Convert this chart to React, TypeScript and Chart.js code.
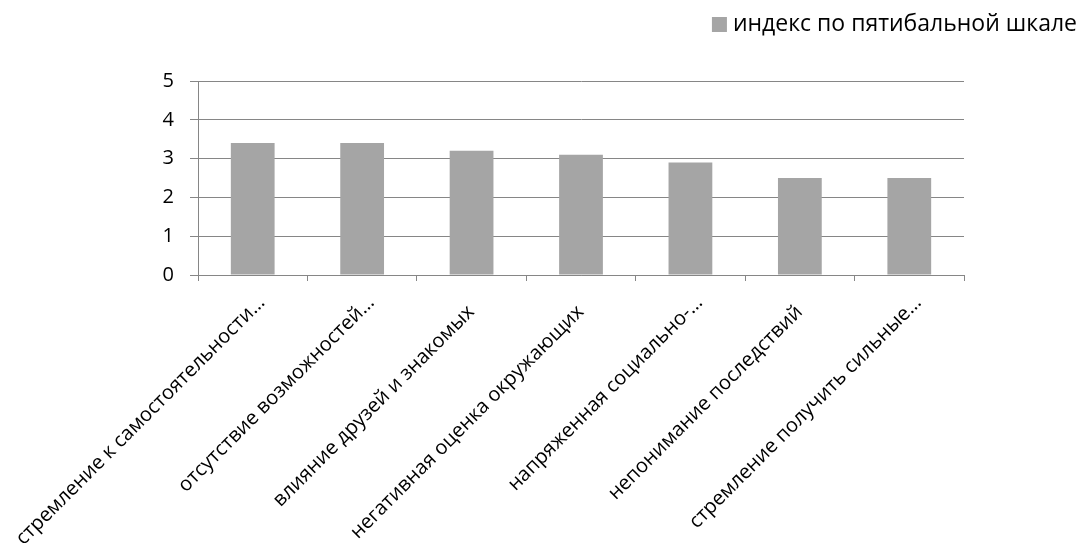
import React, { useEffect, useRef } from "react";
import { Chart, registerables } from "chart.js";

Chart.register(...registerables);

const categories: string[] = [
  "стремление к самостоятельности…",
  "отсутствие возможностей…",
  "влияние друзей и знакомых",
  "негативная оценка окружающих",
  "напряженная социально-…",
  "непонимание последствий",
  "стремление получить сильные…",
];
const seriesName = "индекс по пятибальной шкале";
const values: number[] = [3.4, 3.4, 3.2, 3.1, 2.9, 2.5, 2.5];
const yTicks: number[] = [0, 1, 2, 3, 4, 5];

const FONT = "'Open Sans', 'DejaVu Sans', sans-serif";
const BAR_COLOR = "#A5A5A5";
const GRID_COLOR = "#868686";

const legendPlugin = {
  id: "customLegend",
  afterDraw(chart: any) {
    const ctx = chart.ctx;
    ctx.save();
    ctx.font = `23px ${FONT}`;
    ctx.textBaseline = "middle";
    ctx.textAlign = "right";
    const textRight = 1077;
    const y = 24;
    const w = ctx.measureText(seriesName).width;
    ctx.fillStyle = "#000";
    ctx.fillText(seriesName, textRight, y);
    ctx.fillStyle = BAR_COLOR;
    ctx.fillRect(textRight - w - 21, 17, 15, 15);
    ctx.restore();
  },
};

export default function App() {
  const ref = useRef<HTMLCanvasElement | null>(null);
  useEffect(() => {
    if (!ref.current) return;
    const chart = new Chart(ref.current, {
      type: "bar",
      data: {
        labels: categories,
        datasets: [
          {
            label: seriesName,
            data: values,
            backgroundColor: BAR_COLOR,
            borderWidth: 0,
            barPercentage: 0.4,
            categoryPercentage: 1,
          },
        ],
      },
      options: {
        animation: false,
        responsive: false,
        maintainAspectRatio: false,
        layout: { padding: { top: 81, right: 116, left: 0, bottom: 0 } },
        plugins: { legend: { display: false }, tooltip: { enabled: false } },
        scales: {
          x: {
            grid: {
              display: true,
              drawOnChartArea: false,
              drawTicks: true,
              tickLength: 6,
              color: GRID_COLOR,
              offset: true,
            },
            border: { display: true, color: GRID_COLOR, width: 1 },
            ticks: {
              color: "#000",
              font: { family: FONT, size: 20 },
              maxRotation: 45,
              minRotation: 45,
              autoSkip: false,
              padding: 10,
              labelOffset: 9,
              callback: (_v: any, i: number) => {
                const s = categories[i];
                // untruncated labels sit slightly further back, as in the original
                return s.endsWith("…") ? s : s + "\u2002\u2009";
              },
            },
            afterFit(scale: any) {
              scale.height = 268;
              scale.paddingLeft = 0;
              scale.paddingRight = 0;
            },
          },
          y: {
            min: 0,
            max: 5,
            afterBuildTicks(scale: any) {
              scale.ticks = yTicks.map((v) => ({ value: v }));
            },
            grid: {
              color: GRID_COLOR,
              drawTicks: true,
              tickLength: 8,
            },
            border: { display: true, color: GRID_COLOR, width: 1 },
            ticks: {
              color: "#000",
              font: { family: FONT, size: 20 },
              padding: 16,
            },
            afterFit(scale: any) {
              scale.width = 198;
              scale.paddingTop = 0;
              scale.paddingBottom = 0;
            },
          },
        },
      },
      plugins: [legendPlugin],
    });
    return () => chart.destroy();
  }, []);
  return (
    <div style={{ position: "fixed", left: 0, top: 0, width: 1080, height: 543, background: "#fff" }}>
      <canvas ref={ref} width={1080} height={543} style={{ width: 1080, height: 543 }} />
    </div>
  );
}
